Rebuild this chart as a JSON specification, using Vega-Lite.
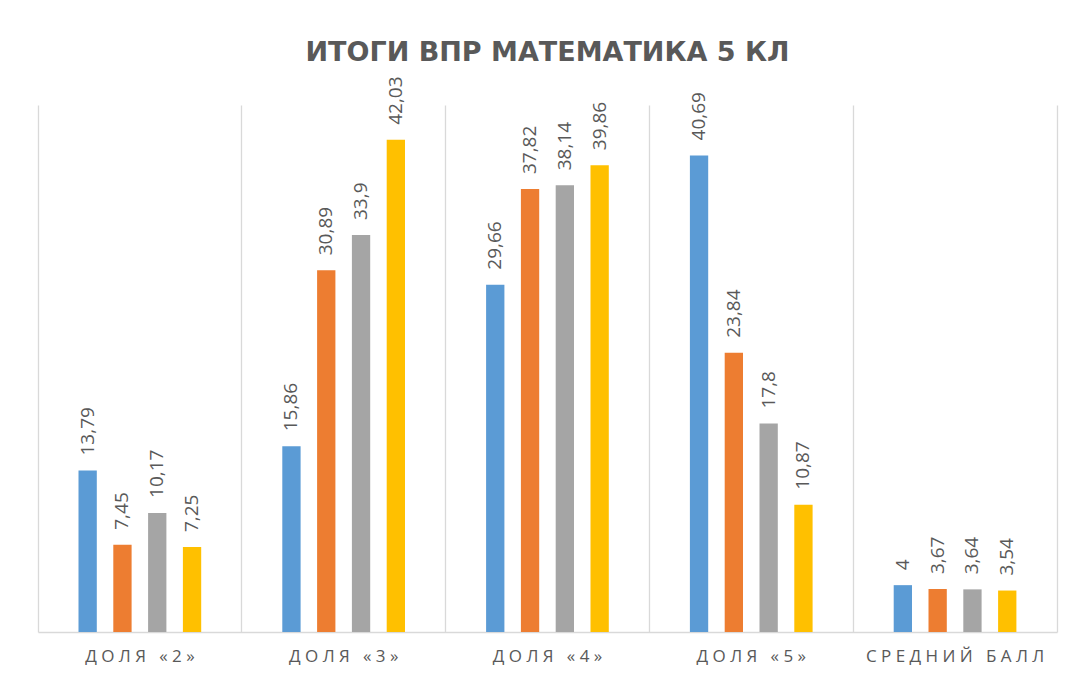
{
  "$schema": "https://vega.github.io/schema/vega-lite/v6.json",
  "width": 1019,
  "height": 527,
  "autosize": {"type": "none"},
  "padding": {"left": 38, "top": 105, "right": 18, "bottom": 52},
  "background": "#ffffff",
  "title": {
    "text": "ИТОГИ ВПР МАТЕМАТИКА 5 КЛ",
    "font": "DejaVu Sans",
    "fontSize": 27,
    "fontWeight": "bold",
    "color": "#595959",
    "anchor": "middle",
    "offset": 9
  },
  "data": {
    "values": [
      {"category": "ДОЛЯ «2»", "series": "Ряд 1", "value": 13.79},
      {"category": "ДОЛЯ «2»", "series": "Ряд 2", "value": 7.45},
      {"category": "ДОЛЯ «2»", "series": "Ряд 3", "value": 10.17},
      {"category": "ДОЛЯ «2»", "series": "Ряд 4", "value": 7.25},
      {"category": "ДОЛЯ «3»", "series": "Ряд 1", "value": 15.86},
      {"category": "ДОЛЯ «3»", "series": "Ряд 2", "value": 30.89},
      {"category": "ДОЛЯ «3»", "series": "Ряд 3", "value": 33.9},
      {"category": "ДОЛЯ «3»", "series": "Ряд 4", "value": 42.03},
      {"category": "ДОЛЯ «4»", "series": "Ряд 1", "value": 29.66},
      {"category": "ДОЛЯ «4»", "series": "Ряд 2", "value": 37.82},
      {"category": "ДОЛЯ «4»", "series": "Ряд 3", "value": 38.14},
      {"category": "ДОЛЯ «4»", "series": "Ряд 4", "value": 39.86},
      {"category": "ДОЛЯ «5»", "series": "Ряд 1", "value": 40.69},
      {"category": "ДОЛЯ «5»", "series": "Ряд 2", "value": 23.84},
      {"category": "ДОЛЯ «5»", "series": "Ряд 3", "value": 17.8},
      {"category": "ДОЛЯ «5»", "series": "Ряд 4", "value": 10.87},
      {"category": "СРЕДНИЙ БАЛЛ", "series": "Ряд 1", "value": 4},
      {"category": "СРЕДНИЙ БАЛЛ", "series": "Ряд 2", "value": 3.67},
      {"category": "СРЕДНИЙ БАЛЛ", "series": "Ряд 3", "value": 3.64},
      {"category": "СРЕДНИЙ БАЛЛ", "series": "Ряд 4", "value": 3.54}
    ]
  },
  "encoding": {
    "x": {
      "field": "category",
      "type": "nominal",
      "sort": null,
      "scale": {"paddingInner": 0, "paddingOuter": 0},
      "axis": {
        "title": null,
        "labelAngle": 0,
        "ticks": false,
        "grid": true,
        "bandPosition": 0,
        "gridColor": "#d9d9d9",
        "gridWidth": 1.3,
        "domainColor": "#d9d9d9",
        "domainWidth": 1.3,
        "labelFont": "Open Sans",
        "labelFontSize": 17,
        "labelColor": "#595959",
        "labelPadding": 16,
        "labelExpr": "join(split(datum.label, ''), '\u00a0')"
      }
    },
    "xOffset": {
      "field": "series",
      "type": "nominal",
      "scale": {"range": [40.5, 163.2], "paddingInner": 0.474, "paddingOuter": 0}
    },
    "y": {
      "field": "value",
      "type": "quantitative",
      "scale": {"domain": [0, 45]},
      "axis": {
        "orient": "right",
        "title": null,
        "labels": false,
        "ticks": false,
        "grid": false,
        "domainColor": "#d9d9d9",
        "domainWidth": 1.3
      }
    }
  },
  "layer": [
    {
      "mark": {"type": "bar"},
      "encoding": {
        "color": {
          "field": "series",
          "type": "nominal",
          "legend": null,
          "scale": {"range": ["#5B9BD5", "#ED7D31", "#A5A5A5", "#FFC000"]}
        }
      }
    },
    {
      "mark": {
        "type": "text",
        "angle": 270,
        "align": "left",
        "baseline": "middle",
        "dx": 15,
        "font": "Open Sans",
        "fontSize": 19,
        "color": "#595959"
      },
      "encoding": {
        "text": {"field": "value", "type": "quantitative", "format": "~g"}
      }
    }
  ],
  "config": {
    "view": {"stroke": null},
    "locale": {"number": {"decimal": ",", "thousands": " ", "grouping": [3], "currency": ["", ""]}}
  }
}
